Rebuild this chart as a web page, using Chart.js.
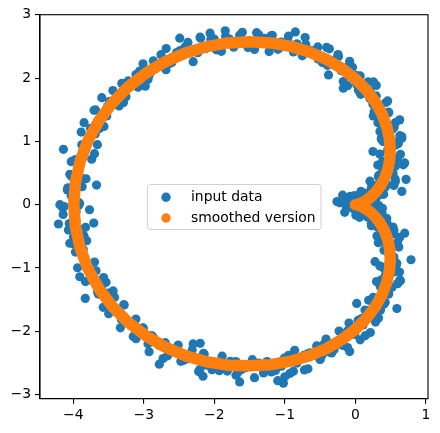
<!DOCTYPE html>
<html><head><meta charset="utf-8">
<script src="https://cdn.jsdelivr.net/npm/chart.js@4"></script>
<style>html,body{margin:0;padding:0;background:#fff}</style>
</head><body>
<canvas id="c" width="440" height="433"></canvas>
<script>
const seriesLabels = ['input data', 'smoothed version'];
const xTicks = [-4, -3, -2, -1, 0, 1];
const yTicks = [-3, -2, -1, 0, 1, 2, 3];

const inputData = [
[0.07,-0.04],[-0.05,0.10],[0.12,0.06],
[0.005,0.141],[0.098,0.021],[-0.122,-0.029],
[0.18,-0.005],[-0.05,0.055],[0.04,0.095],
[0.006,-0.042],[0.166,0.138],[-0.074,0.098],
[0.133,0.081],[0.003,-0.079],[0.193,-0.049],
[0.28,0.179],[0.16,0.029],[0.08,0.209],
[0.162,0.154],[0.272,0.284],[0.402,0.164],
[0.366,0.167],[0.246,0.307],[0.416,0.267],
[0.328,0.441],[0.448,0.321],[0.228,0.271],
[0.564,0.404],[0.334,0.464],[0.424,0.504],
[0.399,0.487],[0.559,0.667],[0.319,0.627],
[0.509,0.739],[0.379,0.579],[0.569,0.609],
[0.61,0.966],[0.49,0.816],[0.41,0.996],[0.64,0.796],
[0.418,1.067],[0.528,1.197],[0.658,1.077],[0.368,1.037],
[0.52,1.197],[0.40,1.337],[0.57,1.297],[0.35,1.157],
[0.354,1.572],[0.474,1.452],[0.254,1.402],[0.424,1.322],
[0.437,1.618],[0.207,1.678],[0.297,1.718],[0.267,1.468],
[0.099,1.759],[0.259,1.939],[0.019,1.899],[0.209,1.799],
[0.02,2.04],[-0.11,1.88],[0.08,1.91],[-0.04,2.17],
[-0.08,2.266],[-0.2,2.116],[-0.28,2.296],[-0.05,2.096],
[-0.478,2.332],[-0.368,2.462],[-0.238,2.342],[-0.528,2.302],
[-0.582,2.392],[-0.702,2.532],[-0.532,2.492],[-0.752,2.352],
[-0.948,2.662],[-0.828,2.542],[-1.048,2.492],[-0.878,2.412],
[-1.052,2.569],[-1.282,2.629],[-1.192,2.669],[-1.222,2.419],
[-1.56,2.538],[-1.40,2.718],[-1.64,2.678],[-1.45,2.578],
[-1.785,2.618],[-1.915,2.458],[-1.725,2.488],[-1.845,2.748],
[-2.002,2.617],[-2.122,2.467],[-2.202,2.647],[-1.972,2.447],
[-2.484,2.434],[-2.374,2.564],[-2.244,2.444],[-2.534,2.404],
[-2.636,2.23],[-2.756,2.37],[-2.586,2.33],[-2.806,2.19],
[-3.01,2.227],[-2.89,2.107],[-3.11,2.057],[-2.94,1.977],
[-3.082,1.856],[-3.312,1.916],[-3.222,1.956],[-3.252,1.706],
[-3.515,1.551],[-3.355,1.731],[-3.595,1.691],[-3.405,1.591],
[-3.625,1.367],[-3.755,1.207],[-3.565,1.237],[-3.685,1.497],
[-3.688,1.118],[-3.808,0.968],[-3.888,1.148],[-3.658,0.948],
[-3.979,0.709],[-3.869,0.839],[-3.739,0.719],[-4.029,0.679],
[-3.907,0.308],[-4.027,0.448],[-3.857,0.408],[-4.077,0.268],
[-4.03,0.14],[-3.91,0.02],[-4.13,-0.03],[-3.96,-0.11],
[-3.827,-0.358],[-4.057,-0.298],[-3.967,-0.258],[-3.997,-0.508],
[-3.969,-0.749],[-3.809,-0.569],[-4.049,-0.609],[-3.859,-0.709],
[-3.778,-0.978],[-3.908,-1.138],[-3.718,-1.108],[-3.838,-0.848],
[-3.535,-1.227],[-3.655,-1.377],[-3.735,-1.197],[-3.505,-1.397],
[-3.525,-1.591],[-3.415,-1.461],[-3.285,-1.581],[-3.575,-1.621],
[-3.162,-1.906],[-3.282,-1.766],[-3.112,-1.806],[-3.332,-1.946],
[-3.01,-1.947],[-2.89,-2.067],[-3.11,-2.117],[-2.94,-2.197],
[-2.556,-2.28],[-2.786,-2.22],[-2.696,-2.18],[-2.726,-2.43],
[-2.474,-2.474],[-2.314,-2.294],[-2.554,-2.334],[-2.364,-2.434],
[-2.092,-2.477],[-2.222,-2.637],[-2.032,-2.607],[-2.152,-2.347],
[-1.695,-2.478],[-1.815,-2.628],[-1.895,-2.448],[-1.665,-2.648],
[-1.57,-2.578],[-1.46,-2.448],[-1.33,-2.568],[-1.62,-2.608],
[-1.132,-2.619],[-1.252,-2.479],[-1.082,-2.519],[-1.302,-2.659],
[-0.948,-2.382],[-0.828,-2.502],[-1.048,-2.552],[-0.878,-2.632],
[-0.502,-2.442],[-0.732,-2.382],[-0.642,-2.342],[-0.672,-2.592],
[-0.468,-2.372],[-0.308,-2.192],[-0.548,-2.232],[-0.358,-2.332],
[-0.17,-2.126],[-0.30,-2.286],[-0.11,-2.256],[-0.23,-1.996],
[0.11,-1.9],[-0.01,-2.05],[-0.09,-1.87],[0.14,-2.07],
[0.089,-1.799],[0.199,-1.669],[0.329,-1.789],[0.039,-1.829],
[0.357,-1.668],[0.237,-1.528],[0.407,-1.568],[0.187,-1.708],
[0.354,-1.292],[0.474,-1.412],[0.254,-1.462],[0.424,-1.542],
[0.60,-1.247],[0.37,-1.187],[0.46,-1.147],[0.43,-1.397],
[0.428,-1.107],[0.588,-0.927],[0.348,-0.967],[0.538,-1.067],
[0.52,-0.826],[0.39,-0.986],[0.58,-0.956],[0.46,-0.696],
[0.599,-0.599],[0.479,-0.749],[0.399,-0.569],
[0.389,-0.527],[0.499,-0.397],[0.629,-0.517],
[0.484,-0.454],[0.364,-0.314],[0.534,-0.354],
[0.328,-0.161],[0.448,-0.281],[0.228,-0.331],
[0.446,-0.217],[0.216,-0.157],[0.306,-0.117],
[0.172,-0.194],[0.332,-0.014],[0.092,-0.054],
[0.19,-0.039],[0.06,-0.199],[0.25,-0.169],
[0.223,0.059],[0.103,-0.091],[0.023,0.089],
[-0.004,0.002],[0.106,0.132],[0.236,0.012],
[0.10,-0.045],[-0.02,0.095],[0.15,0.055],
[-0.022,0.139],[0.098,0.019],[-0.122,-0.031],
[-4.14,0.875],[-3.67,0.31],[-3.35,1.56],[-4.19,0.0],[-2.49,2.63],[-2.30,2.26],
[-2.06,2.71],[-4.15,-0.05],[-3.77,-0.08],[-4.21,-0.305],[-3.71,-0.29],[-3.83,-1.48],
[-3.57,-1.15],[-2.78,-2.52],[-2.30,-2.20],[-1.64,-2.80],[-2.16,-2.71],[-0.85,2.73],
[-0.38,2.05],[-0.17,1.84],[0.68,0.63],[0.63,1.34],[0.66,0.21],[-0.22,0.03],
[-0.26,0.05],[0.25,0.84],[0.79,-0.87],[0.28,-0.90],[0.59,-1.64],[0.02,-1.56],
[-1.0,-2.72],[-1.02,-2.82],[-1.1,-2.78],[-0.08,-2.32],[-0.86,-2.30],[-2.2,-2.19],
[0.70,0.66],[0.72,0.40],[0.66,1.05],[0.64,-1.20],[0.70,-0.45],[-0.15,-0.12],[-0.18,0.15],
[-0.088,0.06],[0.062,-0.13],[0.122,0.11],
[0.047,-0.068],[-0.133,0.022],[0.087,0.162],
[0.146,0.04],[0.006,-0.09],[-0.074,0.13],
[0.068,0.118],[0.248,-0.022],[0.008,-0.112],
[0.191,0.188],[0.041,0.018],[0.271,-0.052],
[0.11,0.164],[0.26,-0.026],[0.32,0.214],
[0.294,0.098],[0.114,0.188],[0.334,0.328],
[0.428,0.282],[0.288,0.152],[0.208,0.372],
[0.367,0.445],[0.547,0.305],[0.307,0.215],
[0.488,0.608],[0.338,0.438],[0.568,0.368],
[0.386,0.681],[0.536,0.491],[0.596,0.731],
[0.527,0.71],[0.347,0.80],[0.567,0.94],
[0.597,0.985],[0.457,0.855],[0.377,1.075],
[0.452,1.231],[0.632,1.091],[0.392,1.001],
[0.471,1.464],[0.321,1.294],[0.551,1.224],
[0.249,1.59],[0.399,1.40],[0.459,1.64],
[0.257,1.654],[0.077,1.744],[0.297,1.884],
[0.183,1.941],[0.043,1.811],[-0.037,2.031],
[-0.111,2.175],[0.069,2.035],[-0.171,1.945],
[-0.245,2.372],[-0.395,2.202],[-0.165,2.132],
[-0.617,2.435],[-0.467,2.245],[-0.407,2.485],
[-0.752,2.411],[-0.932,2.501],[-0.712,2.641],
[-0.958,2.585],[-1.098,2.455],[-1.178,2.675],
[-1.37,2.683],[-1.19,2.543],[-1.43,2.453],
[-1.602,2.723],[-1.752,2.553],[-1.522,2.483],
[-2.049,2.613],[-1.899,2.423],[-1.839,2.663],
[-2.234,2.401],[-2.414,2.491],[-2.194,2.631],
[-2.462,2.377],[-2.602,2.247],[-2.682,2.467],
[-2.865,2.273],[-2.685,2.133],[-2.925,2.043],
[-3.059,2.111],[-3.209,1.941],[-2.979,1.871],
[-3.438,1.803],[-3.288,1.613],[-3.228,1.853],
[-3.525,1.402],[-3.705,1.492],[-3.485,1.632],
[-3.627,1.205],[-3.767,1.075],[-3.847,1.295],
[-3.879,0.946],[-3.699,0.806],[-3.939,0.716],
[-3.899,0.65],[-4.049,0.48],[-3.819,0.41],
[-4.084,0.234],[-3.934,0.044],[-3.874,0.284],
[-3.964,-0.244],[-4.144,-0.154],[-3.924,-0.014],
[-3.849,-0.49],[-3.989,-0.62],[-4.069,-0.40],
[-3.879,-0.766],[-3.699,-0.906],[-3.939,-0.996],
[-3.677,-1.045],[-3.827,-1.215],[-3.597,-1.285],
[-3.645,-1.412],[-3.495,-1.602],[-3.435,-1.362],
[-3.318,-1.813],[-3.498,-1.723],[-3.278,-1.583],
[-3.009,-1.951],[-3.149,-2.081],[-3.229,-1.861],
[-2.865,-2.093],[-2.685,-2.233],[-2.925,-2.323],
[-2.512,-2.217],[-2.662,-2.387],[-2.432,-2.457],
[-2.354,-2.411],[-2.204,-2.601],[-2.144,-2.361],
[-1.929,-2.623],[-2.109,-2.533],[-1.889,-2.393],
[-1.552,-2.563],[-1.692,-2.693],[-1.772,-2.473],
[-1.37,-2.503],[-1.19,-2.643],[-1.43,-2.733],
[-1.008,-2.425],[-1.158,-2.595],[-0.928,-2.665],
[-0.872,-2.421],[-0.722,-2.611],[-0.662,-2.371],
[-0.497,-2.445],[-0.677,-2.355],[-0.457,-2.215],
[-0.195,-2.212],[-0.335,-2.342],[-0.415,-2.122],
[-0.111,-1.995],[0.069,-2.135],[-0.171,-2.225],
[0.133,-1.781],[-0.017,-1.951],[0.213,-2.021],
[0.137,-1.664],[0.287,-1.854],[0.347,-1.614],
[0.369,-1.60],[0.189,-1.51],[0.409,-1.37],
[0.521,-1.304],[0.381,-1.434],[0.301,-1.214],
[0.452,-1.051],[0.632,-1.191],[0.392,-1.281],
[0.547,-0.825],[0.397,-0.995],[0.627,-1.065],
[0.407,-0.72],[0.557,-0.91],[0.617,-0.67],
[0.506,-0.691],[0.326,-0.601],[0.546,-0.461],
[0.538,-0.448],[0.398,-0.578],[0.318,-0.358],
[0.367,-0.265],[0.547,-0.405],[0.307,-0.495],
[0.378,-0.122],[0.228,-0.292],[0.458,-0.362],
[0.174,-0.108],[0.324,-0.298],[0.384,-0.058],
[0.23,-0.174],[0.05,-0.084],[0.27,0.056],
[0.241,-0.028],[0.101,-0.158],[0.021,0.062],
[0.068,0.062],[0.248,-0.078],[0.008,-0.168],
[0.096,0.12],[-0.054,-0.05],[0.176,-0.12],
[-0.073,0.058],[0.077,-0.132],[0.137,0.108],
[0.032,-0.07],[-0.148,0.02],[0.072,0.16]
];

const smoothData = [
[0,0],[0.008,0.001],[0.030,0.005],[0.066,0.018],[0.113,0.041],[0.170,0.079],[0.232,0.134],
[0.296,0.207],[0.358,0.301],[0.414,0.414],[0.459,0.547],[0.487,0.699],[0.495,0.866],
[0.484,1.047],[0.446,1.235],[0.381,1.428],[0.285,1.622],[0.158,1.810],[0,1.988],
[-0.190,2.152],[-0.407,2.295],[-0.650,2.413],[-0.916,2.501],[-1.200,2.556],[-1.5,2.575],
[-1.805,2.556],[-2.110,2.497],[-2.410,2.397],[-2.700,2.256],[-2.972,2.076],[-3.224,1.858],
[-3.447,1.606],[-3.637,1.324],[-3.790,1.017],[-3.902,0.689],[-3.970,0.348],[-3.993,0],
[-3.970,-0.348],[-3.902,-0.689],[-3.790,-1.017],[-3.637,-1.324],[-3.447,-1.606],[-3.224,-1.855],
[-2.972,-2.070],[-2.700,-2.248],[-2.410,-2.385],[-2.110,-2.482],[-1.805,-2.535],[-1.5,-2.545],
[-1.200,-2.528],[-0.916,-2.472],[-0.650,-2.386],[-0.407,-2.272],[-0.190,-2.131],[0,-1.970],
[0.158,-1.795],[0.285,-1.610],[0.381,-1.418],[0.446,-1.228],[0.484,-1.042],[0.495,-0.862],
[0.487,-0.697],[0.459,-0.546],[0.414,-0.414],[0.358,-0.301],[0.296,-0.207],[0.232,-0.134],
[0.170,-0.079],[0.113,-0.041],[0.066,-0.018],[0.030,-0.005],[0.008,-0.001],[0,0]
];

const BLUE = '#1f77b4', ORANGE = '#ff7f0e';
const FONT = 'DejaVu Sans';
const fmt = v => (v < 0 ? '\u2212' + Math.abs(v) : String(v));

const framePlugin = {
  id: 'frame',
  afterDraw(chart) {
    const { ctx, chartArea: a } = chart;
    ctx.save();
    ctx.strokeStyle = '#000';
    ctx.lineWidth = 1.1;
    ctx.strokeRect(a.left, a.top, a.right - a.left, a.bottom - a.top);
    const lx = 147.5, ly = 184.5, lw = 173.5, lh = 45, r = 3;
    ctx.beginPath();
    ctx.moveTo(lx + r, ly);
    ctx.arcTo(lx + lw, ly, lx + lw, ly + lh, r);
    ctx.arcTo(lx + lw, ly + lh, lx, ly + lh, r);
    ctx.arcTo(lx, ly + lh, lx, ly, r);
    ctx.arcTo(lx, ly, lx + lw, ly, r);
    ctx.closePath();
    ctx.fillStyle = 'rgba(255,255,255,0.8)';
    ctx.fill();
    ctx.strokeStyle = '#d0d0d0';
    ctx.lineWidth = 1;
    ctx.stroke();
    const colors = [BLUE, ORANGE];
    const rows = [197.3, 218];
    ctx.font = '13.9px "' + FONT + '"';
    ctx.textBaseline = 'middle';
    ctx.textAlign = 'left';
    seriesLabels.forEach((lab, i) => {
      ctx.beginPath();
      ctx.arc(166, rows[i], 4.7, 0, Math.PI * 2);
      ctx.fillStyle = colors[i];
      ctx.fill();
      ctx.fillStyle = '#000';
      ctx.fillText(lab, 191, rows[i] + 0.5);
    });
    ctx.restore();
  }
};

new Chart(document.getElementById('c'), {
  type: 'scatter',
  data: {
    datasets: [
      {
        label: seriesLabels[0],
        data: inputData.map(p => ({ x: p[0], y: p[1] })),
        backgroundColor: BLUE,
        borderColor: BLUE,
        borderWidth: 0,
        pointRadius: 4.6,
        order: 2
      },
      {
        label: seriesLabels[1],
        data: smoothData.map(p => ({ x: p[0], y: p[1] })),
        showLine: true,
        borderColor: ORANGE,
        backgroundColor: ORANGE,
        borderWidth: 11.5,
        borderCapStyle: 'round',
        borderJoinStyle: 'round',
        pointRadius: 0,
        tension: 0,
        order: 1
      }
    ]
  },
  options: {
    responsive: false,
    animation: false,
    events: [],
    layout: { padding: { left: 0, top: 14.7, right: 12, bottom: 0 } },
    plugins: { legend: { display: false }, tooltip: { enabled: false } },
    scales: {
      x: {
        type: 'linear',
        min: -4.472,
        max: 1.031,
        afterBuildTicks: s => { s.ticks = xTicks.map(v => ({ value: v })); },
        afterFit: s => { s.height = 34.3; },
        grid: { display: true, drawOnChartArea: false, drawTicks: true, tickLength: 5, color: '#000', lineWidth: 1.1 },
        border: { display: true, color: '#000', width: 1.1 },
        ticks: { color: '#000', font: { family: FONT, size: 13.9 }, padding: 3, maxRotation: 0, callback: v => fmt(v) }
      },
      y: {
        type: 'linear',
        min: -3.065,
        max: 3.0016,
        afterBuildTicks: s => { s.ticks = yTicks.map(v => ({ value: v })); },
        afterFit: s => { s.width = 40; },
        grid: { display: true, drawOnChartArea: false, drawTicks: true, tickLength: 5, color: '#000', lineWidth: 1.1 },
        border: { display: true, color: '#000', width: 1.1 },
        ticks: { color: '#000', font: { family: FONT, size: 13.9 }, padding: 4, callback: v => fmt(v) }
      }
    }
  },
  plugins: [framePlugin]
});
</script>
</body></html>
